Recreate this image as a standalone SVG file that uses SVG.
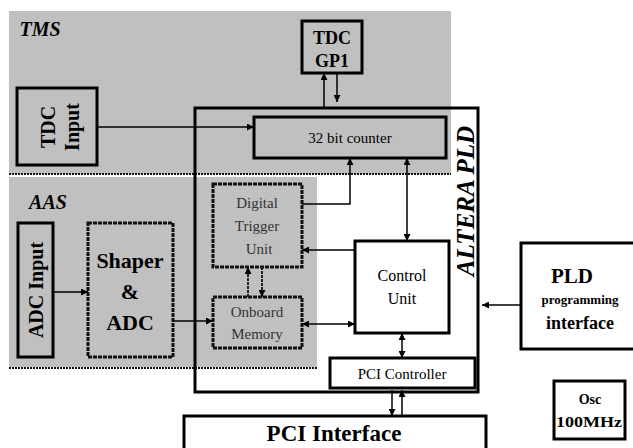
<svg xmlns="http://www.w3.org/2000/svg" width="633" height="448" viewBox="0 0 633 448">
<defs>
<style>
.box{fill:none;stroke:#000;stroke-width:3}
.dbox{fill:none;stroke:#111;stroke-width:3;stroke-dasharray:4 1}
.ln{fill:none;stroke:#000;stroke-width:1.5}
.dln{fill:none;stroke:#222;stroke-width:2;stroke-dasharray:3 1}
.t{font-family:'Liberation Serif','Liberation Sans',sans-serif;fill:#000;text-anchor:middle}
.b{font-weight:bold}
.i{font-style:italic}
.g{fill:#333}
</style>
<marker id="ah" viewBox="0 0 10 10" refX="10" refY="5" markerWidth="8" markerHeight="7" markerUnits="userSpaceOnUse" orient="auto-start-reverse">
<path d="M0,0 L10,5 L0,10 z" fill="#000"/>
</marker>
</defs>
<rect width="633" height="448" fill="#fff"/>
<g id="regions">
<rect x="9" y="11" width="442" height="163" fill="#c0c0c0"/>
<rect x="9" y="177" width="308" height="190" fill="#c0c0c0"/>
<line x1="9" y1="174" x2="451" y2="174" stroke="#111" stroke-width="2" stroke-dasharray="2 1"/>
<line x1="9" y1="368" x2="317" y2="368" stroke="#111" stroke-width="2" stroke-dasharray="2 1"/>
<text class="t b i" x="40" y="36" font-size="20">TMS</text>
<text class="t b i" x="48" y="209" font-size="20">AAS</text>
</g>
<g id="altera">
<rect class="box" x="195" y="108" width="283" height="284"/>
<text class="t b i" transform="translate(474,201) rotate(-90)" font-size="25">ALTERA PLD</text>
</g>
<g id="tdcgp1">
<rect class="box" x="302" y="21" width="60" height="52"/>
<text class="t b" x="332" y="44" font-size="18">TDC</text>
<text class="t b" x="332" y="67" font-size="18">GP1</text>
</g>
<g id="tdcinput">
<rect class="box" x="17" y="88" width="80" height="77"/>
<text class="t b" transform="translate(55,127) rotate(-90)" font-size="20">TDC</text>
<text class="t b" transform="translate(79,127) rotate(-90)" font-size="20">Input</text>
</g>
<g id="counter">
<rect class="box" x="254" y="117" width="192" height="41"/>
<text class="t" x="350" y="143" font-size="15">32 bit counter</text>
</g>
<g id="adcinput">
<rect class="box" x="18" y="223" width="35" height="134"/>
<text class="t b" transform="translate(43,290) rotate(-90)" font-size="20">ADC Input</text>
</g>
<g id="shaper">
<rect class="dbox" x="88" y="223" width="85" height="134"/>
<text class="t b" x="130" y="268" font-size="22">Shaper</text>
<text class="t b" x="130" y="299" font-size="22">&amp;</text>
<text class="t b" x="130" y="330" font-size="22">ADC</text>
</g>
<g id="dtu">
<rect class="dbox" x="213" y="184" width="89" height="83"/>
<text class="t g" x="257" y="208" font-size="15">Digital</text>
<text class="t g" x="257" y="231" font-size="15">Trigger</text>
<text class="t g" x="259" y="254" font-size="15">Unit</text>
</g>
<g id="memory">
<rect class="dbox" x="213" y="297" width="89" height="51"/>
<text class="t g" x="257" y="317" font-size="15">Onboard</text>
<text class="t g" x="257" y="339" font-size="15">Memory</text>
</g>
<g id="control">
<rect class="box" x="355" y="241" width="94" height="92"/>
<text class="t" x="402" y="281" font-size="16">Control</text>
<text class="t" x="402" y="304" font-size="16">Unit</text>
</g>
<g id="pcictrl">
<rect class="box" x="330" y="358" width="145" height="30"/>
<text class="t" x="402" y="379" font-size="15">PCI Controller</text>
</g>
<g id="pciif">
<rect class="box" x="184" y="416" width="302" height="40"/>
<text class="t b" x="334" y="441" font-size="23">PCI Interface</text>
</g>
<g id="pldprog">
<rect class="box" x="521" y="243" width="120" height="106"/>
<text class="t b" x="572" y="283" font-size="21">PLD</text>
<text class="t b" x="580" y="304" font-size="13">programming</text>
<text class="t b" x="580" y="329" font-size="18">interface</text>
</g>
<g id="osc">
<rect class="box" x="554" y="381" width="71" height="58"/>
<text class="t b" x="590" y="404" font-size="14">Osc</text>
<text class="t b" x="589" y="427" font-size="14" textLength="66" lengthAdjust="spacingAndGlyphs">100MHz</text>
</g>
<g id="connectors">
<line class="ln" x1="97" y1="127" x2="254" y2="127" marker-end="url(#ah)"/>
<line class="ln" x1="324" y1="108" x2="324" y2="73" stroke-width="2" marker-end="url(#ah)"/>
<line class="ln" x1="337" y1="73" x2="337" y2="102" marker-end="url(#ah)"/>
<path class="ln" d="M302,204 H350 V158" stroke-width="2" marker-end="url(#ah)"/>
<line class="ln" x1="407" y1="158" x2="407" y2="241" stroke-width="2" marker-start="url(#ah)" marker-end="url(#ah)"/>
<line class="ln" x1="355" y1="250" x2="302" y2="250" stroke-width="2" marker-end="url(#ah)"/>
<line class="ln" x1="302" y1="324" x2="355" y2="324" stroke-width="2" marker-start="url(#ah)" marker-end="url(#ah)"/>
<line class="ln" x1="53" y1="292" x2="88" y2="292" marker-end="url(#ah)"/>
<line class="ln" x1="173" y1="321" x2="213" y2="321" stroke-width="2" marker-end="url(#ah)"/>
<line class="dln" x1="248" y1="297" x2="248" y2="267" marker-end="url(#ah)"/>
<line class="dln" x1="262" y1="267" x2="262" y2="297" marker-end="url(#ah)"/>
<line class="ln" x1="402" y1="333" x2="402" y2="358" stroke-width="2.5" marker-start="url(#ah)" marker-end="url(#ah)"/>
<line class="ln" x1="392" y1="390" x2="392" y2="416" stroke-width="2" marker-end="url(#ah)"/>
<line class="ln" x1="402" y1="416" x2="402" y2="390" stroke-width="2" marker-end="url(#ah)"/>
<line class="ln" x1="521" y1="305" x2="482" y2="305" stroke-width="2" marker-end="url(#ah)"/>
</g>
</svg>
